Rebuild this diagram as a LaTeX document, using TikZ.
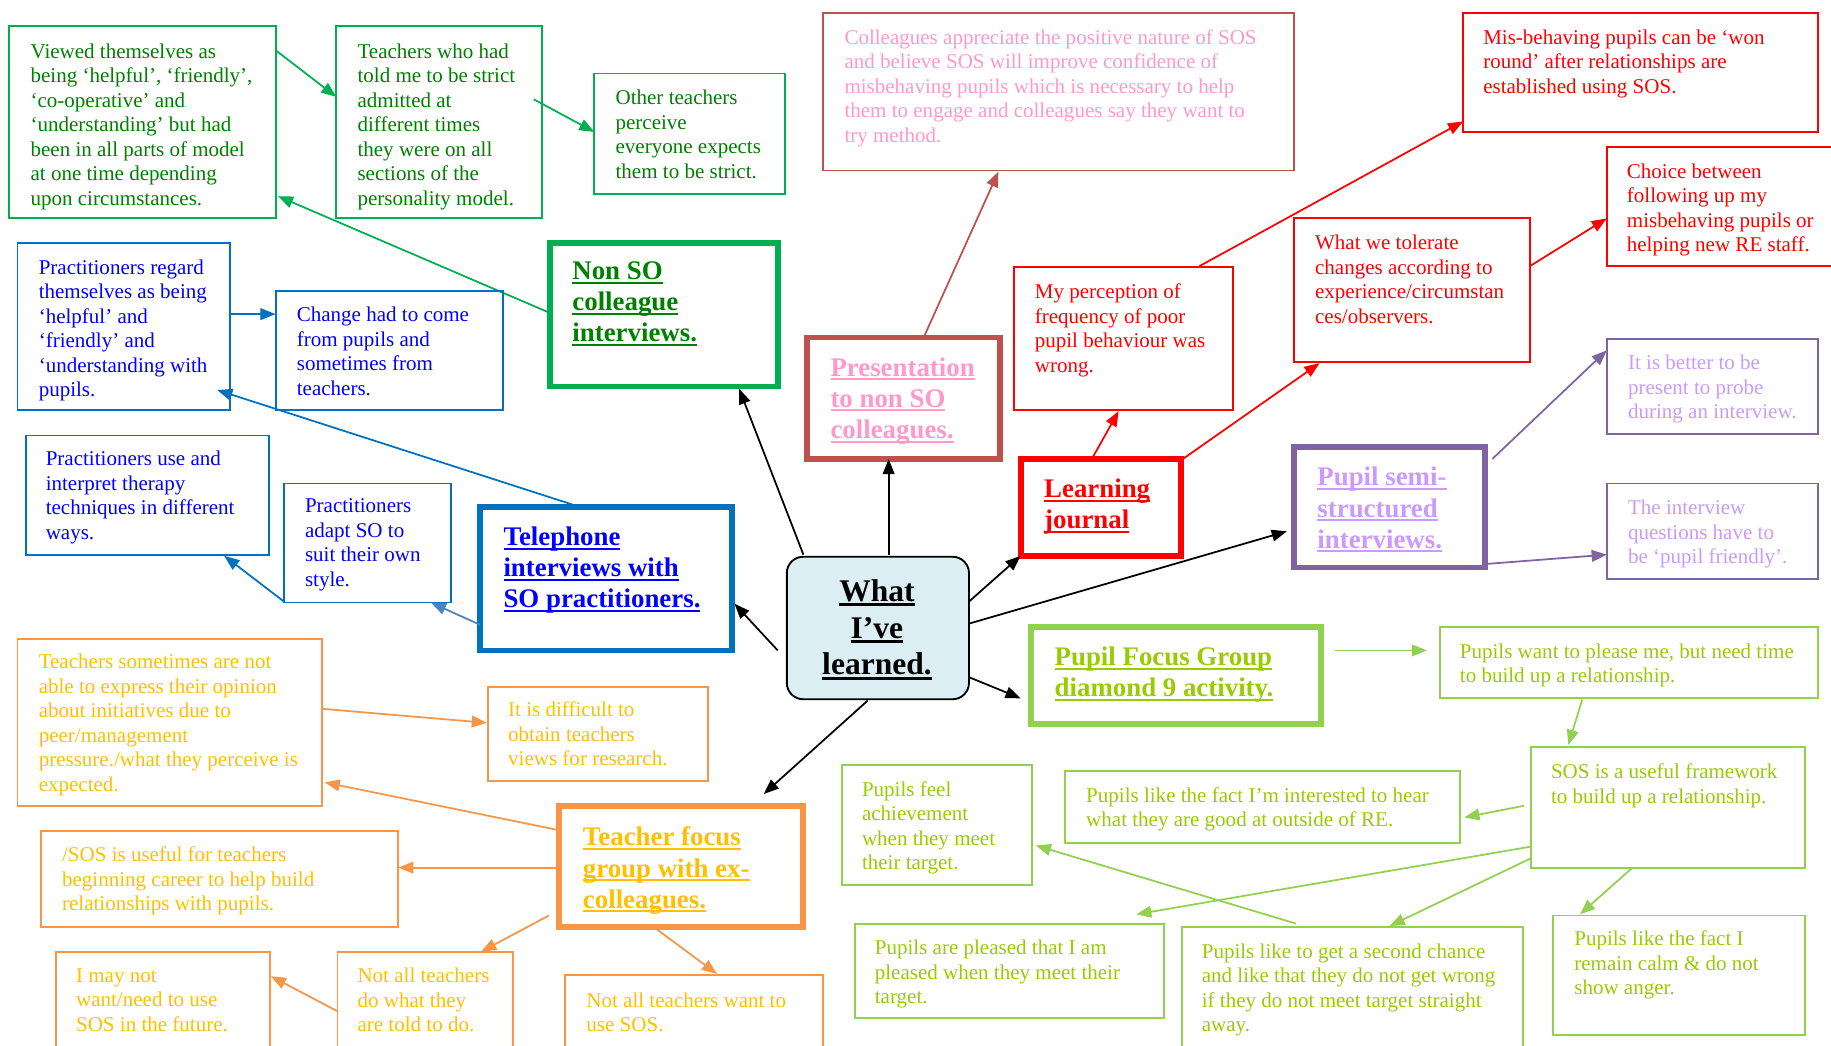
\documentclass[tikz,border=0pt]{standalone}
\usepackage{fontspec}
\setmainfont{Liberation Serif}
\usetikzlibrary{arrows.meta,calc}

\definecolor{grnB}{HTML}{00B050}
\definecolor{grnT}{HTML}{008000}
\definecolor{bluB}{HTML}{0070C0}
\definecolor{bluT}{HTML}{0000FF}
\definecolor{bluL}{HTML}{4F81BD}
\definecolor{pnkB}{HTML}{C0504D}
\definecolor{pnkT}{HTML}{FF99CC}
\definecolor{redB}{HTML}{FF0000}
\definecolor{purB}{HTML}{8064A2}
\definecolor{purT}{HTML}{CC99FF}
\definecolor{limB}{HTML}{92D050}
\definecolor{limT}{HTML}{99CC00}
\definecolor{orgB}{HTML}{F79646}
\definecolor{orgT}{HTML}{FFC000}
\definecolor{ctrF}{HTML}{DAEEF3}

% underlined line of a heading
\newcommand\ulx[1]{\setbox0\hbox{#1}\leavevmode\rlap{\rule[-3.5pt]{\wd0}{1.8pt}}\box0}
\newcommand\ulc[1]{\setbox0\hbox{#1}\leavevmode\rlap{\rule[-4pt]{\wd0}{2.4pt}}\box0}
% rectangle given by its corners (x1,y1) (x2,y2), y growing downwards
\newcommand\bx[6]{\node[#1, minimum width=#5-#3, minimum height=#6-#4] (#2) at (#3,#4) {};}

\tikzset{
  box/.style={draw, line width=1.6pt, anchor=north west, inner sep=0pt, outer sep=0pt},
  hub/.style={box, line width=5pt},
  body/.style={anchor=north west, inner sep=0pt, align=left,
    font=\fontsize{18}{21}\selectfont, execute at begin node=\rule{0pt}{14pt}, yshift=6pt},
  head/.style={anchor=north west, inner sep=0pt, align=left,
    font=\fontsize{23}{26.7}\selectfont\bfseries, execute at begin node=\rule{0pt}{18pt}, yshift=8pt},
  link/.style={line width=1.5pt, -{Triangle[length=13pt,width=10pt]}},
}

\begin{document}
\begin{tikzpicture}[x=1pt,y=-1pt]
\fill[white] (0,0) rectangle (1568,895.75);
\useasboundingbox (0,0) rectangle (1568,895.75);
\clip (0,0) rectangle (1568,895.75);

% ---------- centre ----------
\node[draw, line width=1.6pt, fill=ctrF, rounded corners=14pt, anchor=north west,
  minimum width=156, minimum height=122, inner sep=0pt] (ctr) at (673,476) {};
\node[anchor=north, align=center, inner sep=0pt, font=\fontsize{27}{31.5}\selectfont\bfseries,
  execute at begin node=\rule{0pt}{21pt}, yshift=10pt] (ctrt) at (751,506)
  {\ulc{What}\\\ulc{I’ve}\\\ulc{learned.}};

% ---------- non SO colleague interviews ----------
\bx{hub,grnB}{nonso}{471}{208}{666}{331}
\node[head,text=grnT] (nonsot) at (490,232) {\ulx{Non SO}\\\ulx{colleague}\\\ulx{interviews.}};
\bx{box,grnB}{g1}{8}{22}{236}{187}
\node[body,text=grnT] (g1t) at (26,43) {Viewed themselves as\\being ‘helpful’, ‘friendly’,\\‘co-operative’ and\\‘understanding’ but had\\been in all parts of model\\at one time depending\\upon circumstances.};
\bx{box,grnB}{g2}{288}{22}{464}{187}
\node[body,text=grnT] (g2t) at (306,43) {Teachers who had\\told me to be strict\\admitted at\\different times\\they were on all\\sections of the\\personality model.};
\bx{box,grnB}{g3}{509}{63}{672}{166}
\node[body,text=grnT] (g3t) at (527,83) {Other teachers\\perceive\\everyone expects\\them to be strict.};

\draw[link,grnB] ($(g1.north west)+(228,21)$) -- ($(g2.north west)+(0,61)$);
\draw[link,grnB] ($(g2.north west)+(169,63)$) -- ($(g3.north west)+(0,50)$);
\draw[link,grnB] ($(nonso.north west)+(0,60)$) -- ($(g1.north west)+(230,146)$);

% ---------- telephone interviews ----------
\bx{hub,bluB}{tel}{411}{434}{627}{557}
\node[head,text=bluT] (telt) at (431,459) {\ulx{Telephone}\\\ulx{interviews with}\\\ulx{SO practitioners.}};
\bx{box,bluB}{b1}{15}{208}{197}{351}
\node[body,text=bluT] (b1t) at (33,228) {Practitioners regard\\themselves as being\\‘helpful’ and\\‘friendly’ and\\‘understanding with\\pupils.};
\bx{box,bluB}{b2}{236}{249}{431}{351}
\node[body,text=bluT] (b2t) at (254,269) {Change had to come\\from pupils and\\sometimes from\\teachers.};
\bx{box,bluB}{b3}{22}{373}{230}{475}
\node[body,text=bluT] (b3t) at (39,392) {Practitioners use and\\interpret therapy\\techniques in different\\ways.};
\bx{box,bluB}{b4}{243}{414}{386}{516}
\node[body,text=bluT] (b4t) at (261,433) {Practitioners\\adapt SO to\\suit their own\\style.};

\draw[link,bluB] ($(b1.north west)+(182,61)$) -- ($(b2.north west)+(0,20)$);
\draw[link,bluB] ($(tel.north west)+(79,-2)$) -- ($(b1.north west)+(171,126)$);
\draw[link,bluB] ($(b4.north west)+(0,101)$) -- ($(b3.north west)+(170,103)$);
\draw[link,bluL] ($(tel.north west)+(0,101)$) -- ($(b4.north west)+(126,102)$);

% ---------- presentation ----------
\bx{hub,pnkB}{pres}{691}{289}{856}{393}
\node[head,text=pnkT] (prest) at (711,314) {\ulx{Presentation}\\\ulx{to non SO}\\\ulx{colleagues.}};
\bx{box,pnkB}{p1}{705}{11}{1108}{146}
\node[body,text=pnkT] (p1t) at (723,31) {Colleagues appreciate the positive nature of SOS\\and believe SOS will improve confidence of\\misbehaving pupils which is necessary to help\\them to engage and colleagues say they want to\\try method.};
\draw[link,pnkB] ($(pres.north west)+(100,0)$) -- ($(p1.north west)+(150,136)$);

% ---------- learning journal ----------
\bx{hub,redB}{lj}{874}{393}{1011}{476}
\node[head,text=redB] (ljt) at (894,418) {\ulx{Learning}\\\ulx{journal}};
\bx{box,redB}{r1}{868}{229}{1056}{351}
\node[body,text=redB] (r1t) at (886,249) {My perception of\\frequency of poor\\pupil behaviour was\\wrong.};
\bx{box,redB}{r2}{1108}{187}{1310}{310}
\node[body,text=redB] (r2t) at (1126,207) {What we tolerate\\changes according to\\experience/circumstan\\ces/observers.};
\bx{box,redB}{r3}{1253}{11}{1557}{113}
\node[body,text=redB] (r3t) at (1270,31) {Mis-behaving pupils can be ‘won\\round’ after relationships are\\established using SOS.};
\bx{box,redB}{r4}{1376}{126}{1580}{228}
\node[body,text=redB] (r4t) at (1393,146) {Choice between\\following up my\\misbehaving pupils or\\helping new RE staff.};

\draw[link,redB] ($(lj.north west)+(61,0)$) -- ($(r1.north west)+(90,123)$);
\draw[link,redB] ($(lj.north west)+(139,0)$) -- ($(r2.north west)+(22,124)$);
\draw[link,redB] ($(r1.north west)+(159,-1)$) -- ($(r3.north west)+(0,93)$);
\draw[link,redB] ($(r2.north west)+(202,41)$) -- ($(r4.north west)+(0,61)$);

% ---------- pupil semi-structured interviews ----------
\bx{hub,purB}{ps}{1108}{383}{1272}{486}
\node[head,text=purT] (pst) at (1128,408) {\ulx{Pupil semi-}\\\ulx{structured}\\\ulx{interviews.}};
\bx{box,purB}{u1}{1376}{290}{1557}{372}
\node[body,text=purT] (u1t) at (1394,310) {It is better to be\\present to probe\\during an interview.};
\bx{box,purB}{u2}{1376}{414}{1557}{496}
\node[body,text=purT] (u2t) at (1394,434) {The interview\\questions have to\\be ‘pupil friendly’.};
\draw[link,purB] ($(ps.north west)+(170,10)$) -- ($(u1.north west)+(0,10)$);
\draw[link,purB] ($(ps.north west)+(164,100)$) -- ($(u2.north west)+(0,61)$);

% ---------- pupil focus group ----------
\bx{hub,limB}{pfg}{883}{537}{1131}{620}
\node[head,text=limT] (pfgt) at (903,562) {\ulx{Pupil Focus Group}\\\ulx{diamond 9 activity.}};
\bx{box,limB}{f1}{1233}{537}{1557}{598}
\node[body,text=limT] (f1t) at (1250,557) {Pupils want to please me, but need time\\to build up a relationship.};
\bx{box,limB}{f2}{1311}{640}{1546}{743}
\node[body,text=limT] (f2t) at (1328,660) {SOS is a useful framework\\to build up a relationship.};
\bx{box,limB}{f3}{912}{660}{1250}{722}
\node[body,text=limT] (f3t) at (930,680) {Pupils like the fact I’m interested to hear\\what they are good at outside of RE.};
\bx{box,limB}{f4}{721}{655}{884}{758}
\node[body,text=limT] (f4t) at (738,675) {Pupils feel\\achievement\\when they meet\\their target.};
\bx{box,limB}{f5}{732}{791}{997}{872}
\node[body,text=limT] (f5t) at (749,811) {Pupils are pleased that I am\\pleased when they meet their\\target.};
\bx{box,limB}{f6}{1012}{794}{1304}{920}
\node[body,text=limT] (f6t) at (1029,814) {Pupils like to get a second chance\\and like that they do not get wrong\\if they do not meet target straight\\away.};
\bx{box,limB}{f7}{1330}{784}{1546}{886}
\node[body,text=limT] (f7t) at (1348,803) {Pupils like the fact I\\remain calm \& do not\\show anger.};

\draw[link,limB] ($(pfg.north west)+(260,20)$) -- ($(f1.north west)+(-11,20)$);
\draw[link,limB] ($(f1.north west)+(122,62)$) -- ($(f2.north west)+(32,-2)$);
\draw[link,limB] ($(f2.north west)+(-6,50)$) -- ($(f3.north west)+(342,40)$);
\draw[link,limB] ($(f2.north west)+(0,85)$) -- ($(f5.north west)+(241,-8)$);
\draw[link,limB] ($(f2.north west)+(0,95)$) -- ($(f6.north west)+(178,-1)$);
\draw[link,limB] ($(f2.north west)+(87,103)$) -- ($(f7.north west)+(23,-1)$);
\draw[link,limB] ($(f6.north west)+(98,-3)$) -- ($(f4.north west)+(166,69)$);

% ---------- teacher focus group ----------
\bx{hub,orgB}{tfg}{479}{690}{688}{794}
\node[head,text=orgT] (tfgt) at (499,716) {\ulx{Teacher focus}\\\ulx{group with ex-}\\\ulx{colleagues.}};
\bx{box,orgB}{t1}{15}{547}{276}{690}
\node[body,text=orgT] (t1t) at (33,566) {Teachers sometimes are not\\able to express their opinion\\about initiatives due to\\peer/management\\pressure./what they perceive is\\expected.};
\bx{box,orgB}{t2}{418}{588}{606}{669}
\node[body,text=orgT] (t2t) at (435,607) {It is difficult to\\obtain teachers\\views for research.};
\bx{box,orgB}{t3}{35}{712}{341}{794}
\node[body,text=orgT] (t3t) at (53,731) {/SOS is useful for teachers\\beginning career to help build\\relationships with pupils.};
\bx{box,orgB}{t4}{48}{815}{231}{920}
\node[body,text=orgT] (t4t) at (65,835) {I may not\\want/need to use\\SOS in the future.};
\bx{box,orgB}{t5}{289}{815}{439}{920}
\node[body,text=orgT] (t5t) at (306,835) {Not all teachers\\do what they\\are told to do.};
\bx{box,orgB}{t6}{484}{835}{705}{920}
\node[body,text=orgT] (t6t) at (502,856) {Not all teachers want to\\use SOS.};

\draw[link,orgB] ($(t1.north west)+(261,60)$) -- ($(t2.north west)+(-1,31)$);
\draw[link,orgB] ($(tfg.north west)+(0,21)$) -- ($(t1.north west)+(263,123)$);
\draw[link,orgB] ($(tfg.north west)+(0,53)$) -- ($(t3.north west)+(306,31)$);
\draw[link,orgB] ($(tfg.north west)+(-9,94)$) -- ($(t5.north west)+(123,0)$);
\draw[link,orgB] ($(t5.north west)+(0,51)$) -- ($(t4.north west)+(184,21)$);
\draw[link,orgB] ($(tfg.north west)+(81,104)$) -- ($(t6.north west)+(130,-1)$);

% ---------- links from the centre ----------
\draw[link,black] ($(ctr.north west)+(15,-1)$) -- ($(nonso.north west)+(162,125)$);
\draw[link,black] ($(ctr.north west)+(88,-1)$) -- ($(pres.north west)+(70,104)$);
\draw[link,black] ($(ctr.north west)+(-7,81)$) -- ($(tel.north west)+(218,83)$);
\draw[link,black] ($(ctr.north west)+(157,39)$) -- ($(lj.north west)+(0,83)$);
\draw[link,black] ($(ctr.north west)+(157,58)$) -- ($(ps.north west)+(-6,72)$);
\draw[link,black] ($(ctr.north west)+(157,104)$) -- ($(pfg.north west)+(-9,61)$);
\draw[link,black] ($(ctr.north west)+(70,124)$) -- ($(tfg.north west)+(175,-10)$);
\end{tikzpicture}
\end{document}
